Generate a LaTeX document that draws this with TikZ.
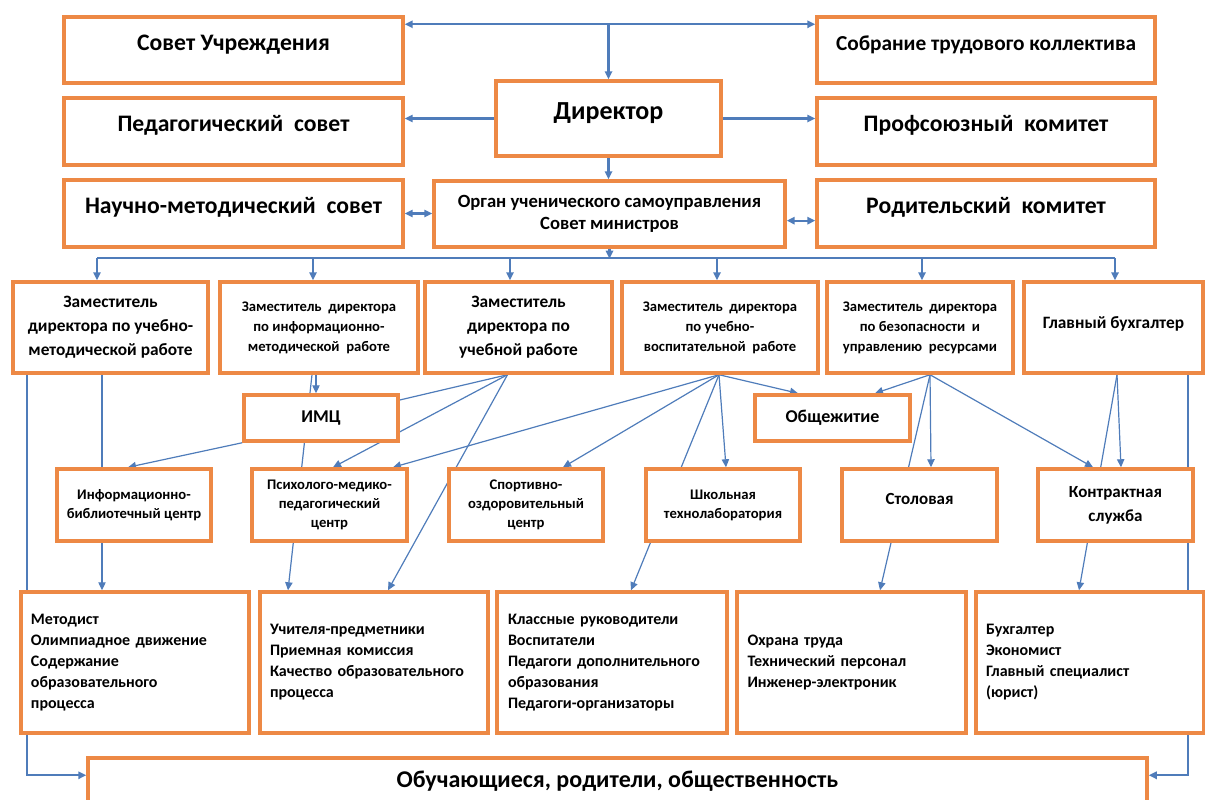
\documentclass[tikz,border=0pt]{standalone}
\usepackage{fontspec}
\setmainfont{Carlito}
\usetikzlibrary{arrows.meta,calc,backgrounds}
\definecolor{boxor}{RGB}{237,137,69}
\definecolor{linkbl}{RGB}{79,124,186}

\begin{document}
\begin{tikzpicture}[x=0.75pt,y=0.75pt,yscale=-1,xscale=1,
  >={Triangle[length=6pt,width=5.5pt]},
  box/.style={draw=boxor,line width=2.6pt,fill=white,align=center},
  dims/.style 2 args={minimum width=#1*0.75pt,minimum height=#2*0.75pt},
  lift/.style 2 args={text height=#1,text depth=#2},
  big/.style={font=\fontsize{17.75}{21}\selectfont\bfseries,lift={12.4pt}{12pt}},
  zbig/.style={font=\fontsize{13}{18}\selectfont\bfseries},
  zsmall/.style={font=\fontsize{11}{15}\selectfont\bfseries},
  mid/.style={font=\fontsize{13.5}{16}\selectfont\bfseries},
  small/.style={font=\fontsize{11}{14.25}\selectfont\bfseries},
  grp/.style={font=\fontsize{12}{15.75}\selectfont\bfseries,align=left,
    text width=156pt,inner xsep=7.5pt},
  link/.style={draw=linkbl,line width=0.9pt},
  rail/.style={draw=linkbl,line width=1.6pt}]
\useasboundingbox (0,0) rectangle (1205,799);

%Shape: Rectangle
\node[box,big,dims={339}{66}] (sovet) at (233.5,50) {Совет Учреждения};
\node[box,big,dims={338}{66},font=\fontsize{16}{20}\selectfont\bfseries] (sobr) at (986,50) {Собрание трудового коллектива};
\node[box,big,dims={339}{67}] (ped) at (233.5,131.5) {Педагогический~ совет};
\node[box,big,dims={338}{67}] (prof) at (986,131.5) {Профсоюзный~ комитет};
\node[box,big,dims={339}{67}] (nauch) at (233.5,213.5) {Научно-методический~ совет};
\node[box,big,dims={338}{67}] (rod) at (986,213.5) {Родительский~ комитет};
\node[box,dims={225}{75},font=\fontsize{19.5}{22}\selectfont\bfseries,lift={13.6pt}{12.8pt}] (dir) at (608.5,118.5) {Директор};
\node[box,dims={351}{66},font=\fontsize{14}{16}\selectfont\bfseries] (organ) at (609.5,214) {Орган ученического самоуправления\\Совет министров};

%Shape: Rectangle
\node[box,zbig,dims={195}{91}] (zam1) at (110.5,327.5) {Заместитель\\директора по учебно-\\методической работе};
\node[box,zsmall,dims={198}{91}] (zam2) at (319,327.5) {Заместитель~ директора\\по информационно-\\методической~ работе};
\node[box,zbig,dims={187}{91}] (zam3) at (518.5,327.5) {Заместитель\\директора по\\учебной работе};
\node[box,zsmall,dims={196}{91}] (zam4) at (720,327.5) {Заместитель~ директора\\по учебно-\\воспитательной~ работе};
\node[box,zsmall,dims={186}{91}] (zam5) at (920,327.5) {Заместитель~ директора\\по безопасности~ и\\управлению~ ресурсами};
\node[box,dims={179}{91},font=\fontsize{13}{15}\selectfont\bfseries,lift={9.1pt}{7.5pt}] (zam6) at (1113.5,327.5) {Главный бухгалтер};

%Shape: Rectangle
\node[box,mid,dims={154}{46}] (imc) at (321,418) {ИМЦ};
\node[box,mid,dims={155}{46}] (obsch) at (832.5,418) {Общежитие};

%Shape: Rectangle
\node[box,small,dims={154}{72}] (ibc) at (134,505) {Информационно-\\библиотечный центр};
\node[box,small,dims={155}{72}] (pmp) at (329.5,505) {Психолого-медико-\\педагогический\\центр};
\node[box,small,dims={154}{72}] (soc) at (526,505) {Спортивно-\\оздоровительный\\центр};
\node[box,small,dims={154}{72}] (stl) at (723,505) {Школьная\\технолаборатория};
\node[box,dims={155}{72},font=\fontsize{12.75}{18}\selectfont\bfseries,lift={8.9pt}{10pt}] (stol) at (919.5,505) {Столовая};
\node[box,dims={155}{72},font=\fontsize{12.75}{18}\selectfont\bfseries] (kontr) at (1115.5,505) {Контрактная\\служба};

%Shape: Rectangle
\node[box,grp,dims={228}{141}] (grpA) at (135,662.5) {Методист\\Олимпиадное движение\\Содержание\\образовательного\\процесса};
\node[box,grp,dims={228}{141}] (grpB) at (374,662.5) {Учителя-предметники\\Приемная комиссия\\Качество образовательного\\процесса};
\node[box,grp,dims={230}{141}] (grpC) at (612,662.5) {Классные руководители\\Воспитатели\\Педагоги дополнительного\\образования\\Педагоги-организаторы};
\node[box,grp,dims={229}{141}] (grpD) at (851.5,662.5) {Охрана труда\\Технический персонал\\Инженер-электроник};
\node[box,grp,dims={228}{141}] (grpE) at (1090,662.5) {Бухгалтер\\Экономист\\Главный специалист\\(юрист)};

%Shape: Rectangle
\node[box,dims={1059}{57},font=\fontsize{18}{22}\selectfont\bfseries,lift={12.6pt}{11pt}] (obuch) at (617.5,786.5) {Обучающиеся, родители, общественность};

\begin{scope}[on background layer]
%Straight Lines
\draw[rail,<->] ($(sovet.north east)+(0,9)$) -- ($(sobr.north west)+(0,9)$);
\draw[rail,->] (dir.north |- sovet.north) ++(0,9) -- (dir.north);
\draw[rail,->] (dir.west) -- (dir.west -| ped.east);
\draw[rail,->] (dir.east) -- (dir.east -| prof.west);
\draw[rail,->] (dir.south) -- (dir.south |- organ.north);
\draw[rail,<->] (nauch.east) -- (nauch.east -| organ.west);
\draw[rail,<->] ([yshift=5pt]organ.east) -- ([yshift=5pt]organ.east -| rod.west);

%Straight Lines
\draw[rail,->] (organ.south) -- ++(0,10);
\draw[rail] ($(zam1.north)+(-13.5,-22)$) -- ($(zam6.north)+(1.5,-22)$);
\draw[rail,->] ($(zam1.north)+(-13.5,-22)$) -- ($(zam1.north)+(-13.5,0)$);
\draw[rail,->] ($(zam2.north)+(-6,-22)$) -- ($(zam2.north)+(-6,0)$);
\draw[rail,->] ($(zam3.north)+(-8.5,-22)$) -- ($(zam3.north)+(-8.5,0)$);
\draw[rail,->] ($(zam4.north)+(-3,-22)$) -- ($(zam4.north)+(-3,0)$);
\draw[rail,->] ($(zam5.north)+(2,-22)$) -- ($(zam5.north)+(2,0)$);
\draw[rail,->] ($(zam6.north)+(1.5,-22)$) -- ($(zam6.north)+(1.5,0)$);

\coordinate (a0) at ($(zam1.south)+(-83.5,0)$);
\coordinate (a1) at ($(zam1.south)+(-8.5,0)$);
\coordinate (b1) at ($(zam2.south)+(-3,0)$);
\coordinate (b2) at ($(zam2.south)+(-7,0)$);
\coordinate (c0) at ($(zam3.south)+(-11,0)$);
\coordinate (d0) at ($(zam4.south)+(-1,0)$);
\coordinate (e0) at ($(zam5.south)+(10,0)$);
\coordinate (g0) at ($(zam6.south)+(3.5,0)$);
\coordinate (g1) at ($(zam6.south)+(74.5,0)$);

%Straight Lines
\draw[rail,->] (a0) |- ($(obuch.north west)+(0,19)$);
\draw[rail,->] (g1) |- ($(obuch.north east)+(0,19)$);

%Straight Lines
\draw[link,->] (a1) -- (a1 |- grpA.north);
\draw[link,->] (b1) -- (b1 |- imc.north);
\draw[link,->] (b2) -- ($(grpB.north)+(-86,0)$);
\draw[link,->] (imc.south west) -- ($(ibc.north)+(-6,0)$);
\draw[link] (c0) -- ($(imc.east)+(0,-18)$);
\draw[link,->] (c0) -- ($(pmp.north)+(3.5,0)$);
\draw[link,->] (c0) -- ($(grpB.north)+(14,0)$);
\draw[link,->] (d0) -- ($(pmp.north)+(63.5,0)$);
\draw[link,->] (d0) -- ($(soc.north)+(37,0)$);
\draw[link,->] (d0) -- ($(grpC.north)+(19,0)$);
\draw[link,->] (d0) -- ($(stl.north)+(3,0)$);
\draw[link,->] (d0) -- ($(obsch.north)+(-34.5,0)$);
\draw[link,->] (e0) -- ($(obsch.north)+(42.5,0)$);
\draw[link,->] (e0) -- ($(stol.north)+(11.5,0)$);
\draw[link,->] (e0) -- ($(grpD.north)+(28.5,0)$);
\draw[link,->] (e0) -- ($(kontr.north)+(-22.5,0)$);
\draw[link,->] (g0) -- ($(kontr.north)+(5.5,0)$);
\draw[link,->] (g0) -- ($(grpE.north)+(-11,0)$);
\end{scope}
\end{tikzpicture}
\end{document}
